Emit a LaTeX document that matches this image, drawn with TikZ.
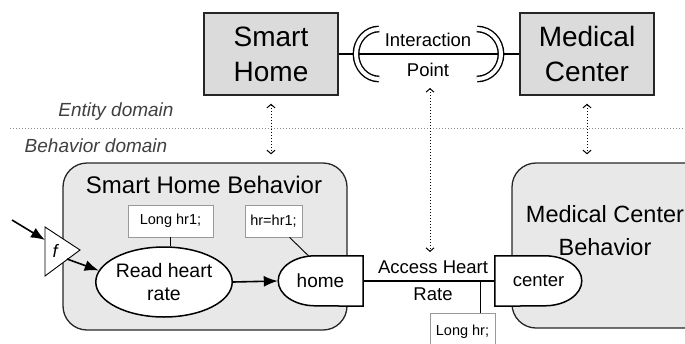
\documentclass[tikz,border=0pt]{standalone}
\usepackage{fontspec}
\setmainfont{Liberation Sans}
\usetikzlibrary{arrows.meta,positioning,shapes.geometric}

\begin{document}
\begin{tikzpicture}[x=1pt,y=-1pt,>={Latex[length=14pt,width=11pt]},
    entidad/.style={draw=black!85,line width=1.4pt,fill=gray!28,align=center,
      minimum width=134pt,minimum height=82pt,inner sep=0pt,
      font=\fontsize{28}{35}\selectfont},
    conducta/.style={draw=black!85,line width=1.3pt,fill=gray!18,rounded corners=24pt},
    codigo/.style={draw=black!40,line width=0.6pt,fill=white,inner sep=0pt,
      font=\fontsize{14.5}{16}\selectfont},
    texto/.style={align=center,inner sep=0pt,text=black},
    dominio/.style={font=\fontsize{19}{22}\selectfont\itshape,text=black!75,inner sep=0pt},
    enlace/.style={<->,>={Straight Barb[length=3.5pt,width=8pt]},dotted,line width=1pt},
    flujo/.style={->,line width=1.6pt},
    puerto/.style={line width=1.5pt,fill=white},
    corchete/.style={double=white,double distance=4pt,line width=1.4pt}]
    \useasboundingbox (0,0) rectangle (685,343);
    \clip (0,0) rectangle (685,343);

    % Dominio de entidades
    \node[entidad] (sh) at (271,54) {Smart\\Home};
    \node[entidad] (mc) at (587,54) {Medical\\Center};
    \draw[line width=1.2pt] (sh.east) -- (mc.west);
    \draw[corchete] (379,79) arc[start angle=90,end angle=270,x radius=23,y radius=25];
    \draw[corchete] (477,29) arc[start angle=270,end angle=450,x radius=24,y radius=25];
    \node[texto,font=\fontsize{18.5}{30}\selectfont] (ip) at (428,55) {Interaction\\Point};

    % Separacion de dominios
    \draw[dotted,line width=1pt,black!45] (10,128) -- (685,128);
    \node[dominio] (ent) at (116,112) {Entity domain};
    \node[dominio] (beh) at (96,146) {Behavior domain};

    % Cajas de comportamiento
    \node[conducta,minimum width=284pt,minimum height=167pt] (shb) at (205,246.5) {};
    \node[conducta,minimum width=212pt,minimum height=165pt] (mcb) at (618,245.5) {};
    \node[texto,font=\fontsize{24}{28}\selectfont] (shbt) at (204,185) {Smart Home Behavior};
    \node[texto,font=\fontsize{23.5}{33}\selectfont] (mcbt) at (605,231) {Medical Center\\Behavior};

    % Enlaces entre dominios
    \coordinate (ipbot) at (430,88);
    \coordinate (ahrtop) at (430,252);
    \draw[enlace] ([yshift=-8pt]sh.south) -- ([yshift=8pt]sh.south |- shb.north);
    \draw[enlace] ([yshift=-8pt]mc.south) -- ([yshift=8pt]mc.south |- mcb.north);
    \draw[enlace] (ipbot) -- (ahrtop);

    % Proceso y puertos
    \node[ellipse,draw,line width=1.5pt,fill=white,minimum width=132pt,minimum height=70pt,
      inner sep=0pt,align=center,font=\fontsize{19.5}{23}\selectfont] (rhr) at (164,282) {Read heart\\rate};
    \node[codigo,minimum width=85pt,minimum height=32pt] (lhr1) at (170.5,221) {Long hr1;};
    \node[codigo,minimum width=57pt,minimum height=32pt] (hrb) at (273.5,221) {hr=hr1;};
    \draw[line width=0.9pt] (lhr1.south) -- (lhr1.south |- rhr.north);

    \node[minimum width=85pt,minimum height=50pt,inner sep=0pt] (home) at (320.5,281) {};
    \draw[puerto] (home.north east) -- ++(-48,0)
      arc[start angle=270,end angle=90,x radius=37,y radius=25] -- (home.south east) -- cycle;
    \node[texto,font=\fontsize{19}{22}\selectfont] (homet) at (home) {home};
    \node[minimum width=87pt,minimum height=50pt,inner sep=0pt] (center) at (538.5,281) {};
    \draw[puerto] (center.north west) -- ++(50,0)
      arc[start angle=270,end angle=450,x radius=37,y radius=25] -- (center.south west) -- cycle;
    \node[texto,font=\fontsize{18.5}{22}\selectfont] (centert) at (center) {center};
    \draw[line width=0.9pt] ([xshift=16pt]hrb.south) -- ([xshift=-12pt]home.north);

    % Conector de acceso
    \draw[line width=1.5pt] (home.east) -- (center.west);
    \node[texto,font=\fontsize{18.5}{27}\selectfont] (ahr) at (433,281) {Access Heart\\Rate};
    \node[codigo,minimum width=65pt,minimum height=38pt] (lhr) at (462.5,332) {Long hr;};
    \coordinate (tap) at (480,281);
    \draw[line width=0.9pt] (tap) -- (tap |- lhr.north);

    % Entrada f
    \coordinate (ftop) at (45,227);
    \coordinate (ftip) at (80,250);
    \coordinate (fbot) at (45,276);
    \draw[line width=0.9pt,fill=white] (ftop) -- (ftip) -- (fbot) -- cycle;
    \node[texto,font=\fontsize{18}{20}\selectfont\itshape] (f) at (55,251) {f};
    \coordinate (fin) at (12,220);
    \coordinate (fleft) at (45,240);
    \coordinate (fout) at (67,259);
    \draw[flujo] (fin) -- (fleft);
    \draw[flujo] (fout) -- (rhr.170);
    \draw[flujo] (rhr.east) -- (home.west);
\end{tikzpicture}
\end{document}
